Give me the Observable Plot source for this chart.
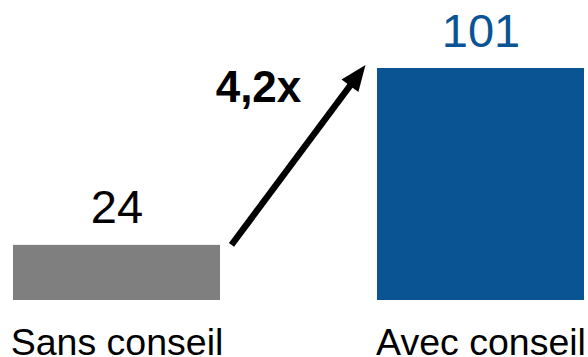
<!DOCTYPE html>
<html><head><meta charset="utf-8">
<script src="https://cdn.jsdelivr.net/npm/d3@7"></script>
<script src="https://cdn.jsdelivr.net/npm/@observablehq/plot@0.6"></script>
<style>html,body{margin:0;padding:0;background:#fff}</style>
</head><body><div id="chart"></div>
<script>
const categories = ["Sans conseil", "Avec conseil"];
const values = [24, 101];
const valueLabels = ["24", "101"];
const barColors = ["#7f7f7f", "#0a5494"];
const labelColors = ["#000000", "#0a5494"];
const ratioLabel = (values[1] / values[0]).toFixed(1).replace(".", ",") + "x";

const data = categories.map((c, i) => ({
  category: c, value: values[i], label: valueLabels[i],
  color: barColors[i], labelColor: labelColors[i]
}));

const FONT = "'Liberation Sans', Arial, Helvetica, sans-serif";

function ratioArrow(index, scales) {
  const x = scales.x, y = scales.y;
  const bw = typeof x.bandwidth === "function" ? x.bandwidth() : x.bandwidth;
  const xs = x(categories[0]) + bw + 11.5, ys = y(values[0]);
  const xe = x(categories[1]) - 11.5, ye = y(values[1]) - 3;
  const ang = Math.atan2(ye - ys, xe - xs);
  const hl = 26, hw = 10.5;
  const bx = xe - hl * Math.cos(ang), by = ye - hl * Math.sin(ang);
  const px = -Math.sin(ang), py = Math.cos(ang);
  const g = d3.create("svg:g");
  g.append("line")
    .attr("x1", xs).attr("y1", ys)
    .attr("x2", bx + 4 * Math.cos(ang)).attr("y2", by + 4 * Math.sin(ang))
    .attr("stroke", "#000").attr("stroke-width", 6.5);
  g.append("path")
    .attr("d", `M${xe},${ye}L${bx + hw * px},${by + hw * py}L${bx - hw * px},${by - hw * py}Z`)
    .attr("fill", "#000");
  g.append("text")
    .attr("x", xe - 107).attr("y", ye + 37)
    .attr("text-anchor", "middle")
    .attr("font-family", FONT).attr("font-weight", "bold").attr("font-size", 44)
    .attr("fill", "#000")
    .text(ratioLabel);
  return g.node();
}

const chart = Plot.plot({
  width: 588,
  height: 357,
  marginTop: 68,
  marginBottom: 57,
  marginLeft: 12,
  marginRight: 3,
  style: {fontFamily: FONT, background: "#fff"},
  x: {domain: categories, paddingInner: 0.43, paddingOuter: 0, axis: null},
  y: {domain: [0, 101], axis: null},
  color: {type: "identity"},
  marks: [
    Plot.barY(data, {x: "category", y: "value", fill: "color"}),
    Plot.text(data, {x: "category", y: "value", text: "label", fill: "labelColor",
      lineAnchor: "bottom", dy: -22, fontSize: 47}),
    Plot.text(data, {x: "category", text: "category", frameAnchor: "bottom",
      lineAnchor: "bottom", dy: 54, fontSize: 37.5, fill: "#000"}),
    ratioArrow
  ]
});
document.getElementById("chart").appendChild(chart);
</script>
</body></html>
